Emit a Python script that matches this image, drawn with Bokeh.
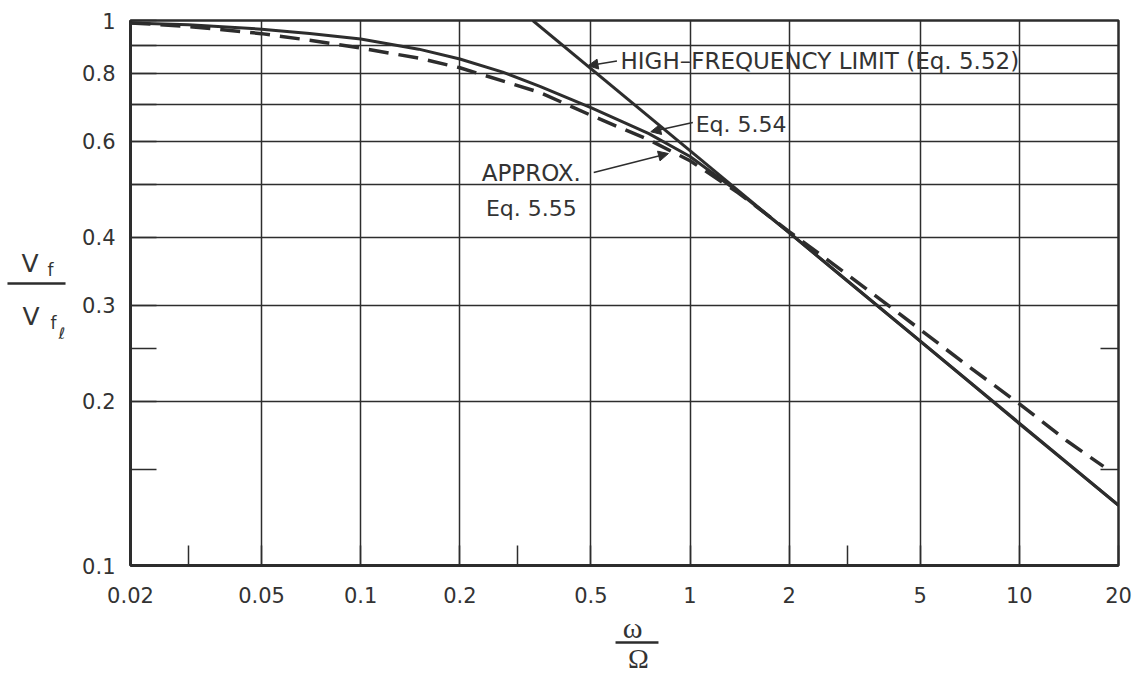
from bokeh.plotting import figure
from bokeh.layouts import row, column
from bokeh.models import FixedTicker, CustomJSTickFormatter, LogAxis, Label, Arrow, NormalHead
from bokeh.core.properties import value
from bokeh.embed import file_html
from bokeh.resources import INLINE

# ---- data ----
eq554_x = [0.02, 0.03, 0.05, 0.07, 0.1, 0.15, 0.2, 0.27, 0.35, 0.5, 0.75, 1.0, 1.4, 2.0, 3.0, 5.0, 7.0, 10.0, 14.0, 20.0]
eq554_y = [0.99, 0.982, 0.964, 0.947, 0.925, 0.886, 0.85, 0.804, 0.757, 0.692, 0.62, 0.563, 0.485, 0.408, 0.333, 0.258, 0.218, 0.182, 0.154, 0.129]

eq555_x = [0.02, 0.03, 0.05, 0.07, 0.1, 0.15, 0.2, 0.35, 0.5, 0.75, 1.0, 1.4, 2.0, 3.0, 5.0, 7.0, 10.0, 14.0, 18.0]
eq555_y = [0.99, 0.975, 0.946, 0.92, 0.89, 0.853, 0.819, 0.738, 0.67, 0.604, 0.553, 0.483, 0.41, 0.342, 0.271, 0.232, 0.198, 0.169, 0.152]

hf_x = [0.333, 20.0]
hf_y = [1.0, 0.129]

x_tick_vals = [0.02, 0.03, 0.05, 0.1, 0.2, 0.3, 0.5, 1, 2, 3, 5, 10, 20]
x_tick_labels = ["0.02", "", "0.05", "0.1", "0.2", "", "0.5", "1", "2", "", "5", "10", "20"]
x_grid_vals = [0.05, 0.1, 0.2, 0.5, 1, 2, 5, 10]

y_tick_vals = [0.1, 0.15, 0.2, 0.25, 0.3, 0.4, 0.5, 0.6, 0.7, 0.8, 0.9, 1]
y_tick_labels = ["0.1", "", "0.2", "", "0.3", "0.4", "", "0.6", "", "0.8", "", "1"]
y_grid_vals = [0.2, 0.3, 0.4, 0.5, 0.6, 0.7, 0.8, 0.9]
right_tick_vals = [0.15, 0.25]

INK = "#2d2d2d"
TXT = "#333333"
FONT = "DejaVu Sans"

fmt_code = """
for (let i = 0; i < tv.length; i++) {
  if (Math.abs(Math.log10(tick / tv[i])) < 1e-6) { return tl[i]; }
}
return "";
"""

LEFT_W = 75
MAIN_H = 610
BOTTOM_H = 675 - MAIN_H

p = figure(width=1146 - LEFT_W, height=MAIN_H, x_axis_type="log", y_axis_type="log",
           x_range=(0.02, 20), y_range=(0.1, 1),
           output_backend="svg", toolbar_location=None,
           min_border_left=130 - LEFT_W, min_border_right=28,
           min_border_top=20, min_border_bottom=45)

p.background_fill_color = "white"
p.border_fill_color = "white"
p.outline_line_color = INK
p.outline_line_width = 2.5
p.outline_line_alpha = 1.0

for ax, vals, labs, tin in ((p.xaxis[0], x_tick_vals, x_tick_labels, 20),
                            (p.yaxis[0], y_tick_vals, y_tick_labels, 26)):
    ax.ticker = FixedTicker(ticks=vals)
    ax.formatter = CustomJSTickFormatter(args=dict(tv=vals, tl=labs), code=fmt_code)
    ax.axis_line_color = INK
    ax.axis_line_width = 3
    ax.major_tick_in = tin
    ax.major_tick_out = 0
    ax.major_tick_line_color = INK
    ax.major_tick_line_width = 1.5
    ax.minor_tick_line_color = None
    ax.major_label_text_font = FONT
    ax.major_label_text_font_size = "21px"
    ax.major_label_text_color = TXT

p.xaxis.major_label_standoff = 21
p.yaxis.major_label_standoff = 15

right_axis = LogAxis(ticker=FixedTicker(ticks=right_tick_vals),
                     formatter=CustomJSTickFormatter(code='return "";'),
                     axis_line_color=None, major_tick_in=18, major_tick_out=0,
                     major_tick_line_color=INK, major_tick_line_width=1.5,
                     minor_tick_line_color=None)
p.add_layout(right_axis, "right")

p.xgrid.ticker = FixedTicker(ticks=x_grid_vals)
p.ygrid.ticker = FixedTicker(ticks=y_grid_vals)
for g in (p.xgrid[0], p.ygrid[0]):
    g.grid_line_color = INK
    g.grid_line_width = 1.5
    g.grid_line_alpha = 1.0
    g.minor_grid_line_color = None

# curves
p.line(hf_x, hf_y, line_color=INK, line_width=3)
p.line(eq554_x, eq554_y, line_color=INK, line_width=3)
p.line(eq555_x, eq555_y, line_color=INK, line_width=3.5, line_dash="20 10")

# annotations
def lab(x, y, t, size="22px"):
    p.add_layout(Label(x=x, y=y, text=t, text_font=FONT, text_font_size=size,
                       text_color=TXT, text_align="left", text_baseline="middle"))

def arr(x0, y0, x1, y1):
    p.add_layout(Arrow(x_start=x0, y_start=y0, x_end=x1, y_end=y1,
                       line_color=INK, line_width=1.5,
                       end=NormalHead(size=10, fill_color=INK, line_color=INK)))

lab(0.615, 0.841, "HIGH\u2013FREQUENCY LIMIT (Eq. 5.52)", size="23px")
arr(0.60, 0.843, 0.49, 0.826)

lab(1.04, 0.6445, "Eq. 5.54")
arr(1.02, 0.65, 0.76, 0.625)

lab(0.233, 0.526, "APPROX.", size="23px")
arr(0.51, 0.526, 0.86, 0.57)
lab(0.24, 0.452, "Eq. 5.55")

# ---- y-axis title panel: V_f / V_f_l ----
left = figure(width=LEFT_W, height=MAIN_H, x_range=(0, 1), y_range=p.y_range,
              y_axis_type="log", x_axis_location=None, y_axis_location=None,
              output_backend="svg", toolbar_location=None,
              min_border_left=0, min_border_right=0, min_border_top=20, min_border_bottom=45)
left.outline_line_color = None
left.grid.visible = False
left.background_fill_color = "white"
left.border_fill_color = "white"

left.text(x=[0.28, 0.293], y=[0.358, 0.2863], text=["V", "V"], text_font=value(FONT),
          text_font_size=value("25px"), text_color=TXT, text_baseline="alphabetic")
left.text(x=[0.627, 0.667], y=[0.3478, 0.278], text=["f", "f"], text_font=value(FONT),
          text_font_size=value("17px"), text_color=TXT, text_baseline="alphabetic")
left.text(x=[0.773], y=[0.2665], text=["\u2113"], text_font=value(FONT),
          text_font_size=value("16px"), text_color=TXT, text_baseline="alphabetic")
left.segment(x0=[0.093], y0=[0.3292], x1=[0.867], y1=[0.3292], line_color=INK, line_width=2.5)

# ---- x-axis title panel: omega / Omega ----
bottom = figure(width=1146, height=BOTTOM_H, x_range=p.x_range, y_range=(0, 1),
                x_axis_type="log", x_axis_location=None, y_axis_location=None,
                output_backend="svg", toolbar_location=None,
                min_border_left=130, min_border_right=28, min_border_top=0, min_border_bottom=0)
bottom.outline_line_color = None
bottom.grid.visible = False
bottom.background_fill_color = "white"
bottom.border_fill_color = "white"

bottom.text(x=[0.669], y=[0.74], text=["\u03c9"], text_font=value("Liberation Serif"),
            text_font_size=value("30px"), text_color=TXT, text_align="center", text_baseline="middle")
bottom.segment(x0=[0.594], y0=[0.508], x1=[0.802], y1=[0.508], line_color=INK, line_width=2.5)
bottom.text(x=[0.697], y=[0.26], text=["\u03a9"], text_font=value("Liberation Serif"),
            text_font_size=value("28px"), text_color=TXT, text_align="center", text_baseline="middle")

layout = column(row(left, p), bottom)
open("out.html", "w").write(file_html(layout, INLINE))
